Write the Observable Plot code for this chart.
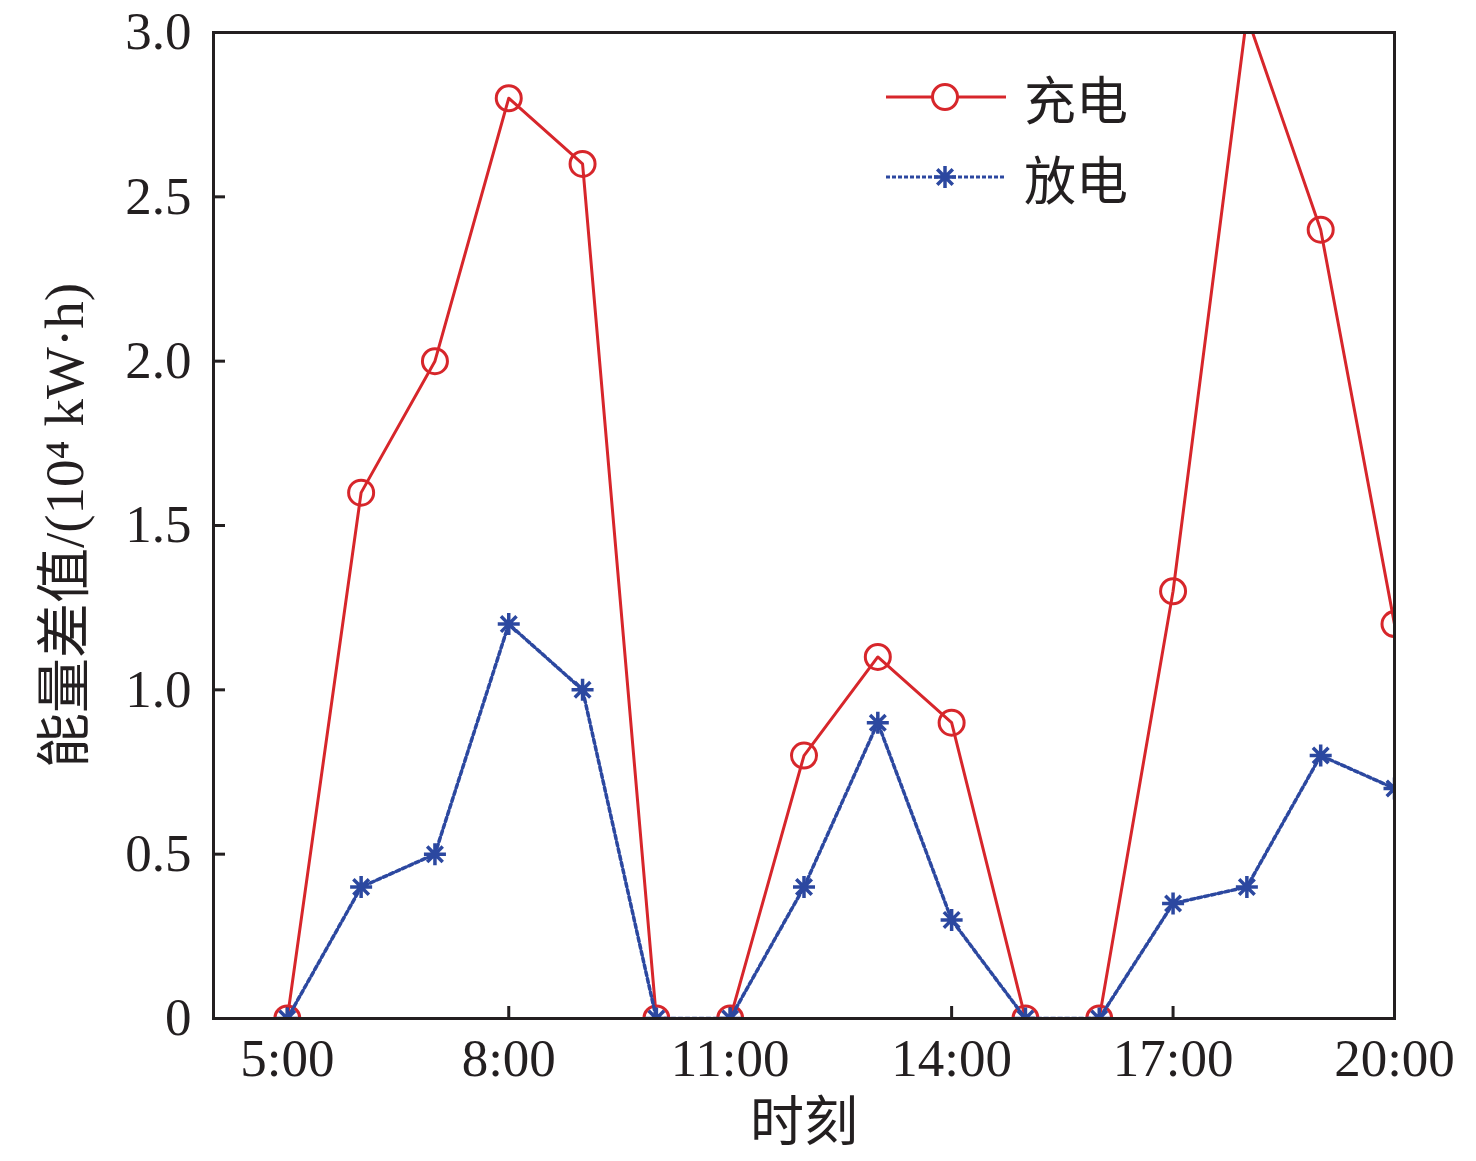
<!DOCTYPE html>
<html><head><meta charset="utf-8">
<script src="https://cdn.jsdelivr.net/npm/d3@7"></script>
<script src="https://cdn.jsdelivr.net/npm/@observablehq/plot@0.6"></script>
<style>
html,body{margin:0;padding:0;background:#fff;}
#wrap{position:relative;width:1476px;height:1161px;}
#legend{position:absolute;left:884px;top:57px;font-family:"Liberation Serif","Noto Sans CJK SC",serif;font-size:52px;color:#231f20;}
.row{display:flex;align-items:center;height:80px;}
.row svg{margin-right:16px;}
</style>
</head><body>
<div id="wrap"><div id="chart"></div><div id="legend"></div></div>
<script>
const hours = [5,6,7,8,9,10,11,12,13,14,15,16,17,18,19,20];
const charge = [0,1.6,2.0,2.8,2.6,0,0,0.8,1.1,0.9,0,0,1.3,3.05,2.4,1.2];
const discharge = [0,0.4,0.5,1.2,1.0,0,0,0.4,0.9,0.3,0,0,0.35,0.4,0.8,0.7];
const seriesNames = ["充电","放电"];
const xTicks = [5,8,11,14,17,20];
const yTicks = [0,0.5,1.0,1.5,2.0,2.5,3.0];
const xLabel = "时刻";
const yLabel = "能量差值/(10⁴ kW·h)";

const RED = "#d7262b", BLUE = "#2c48a0", INK = "#231f20";
const FONT = "'Liberation Serif','Noto Sans CJK SC',serif";

const star8 = {draw(ctx, size){const r=Math.sqrt(size/Math.PI);for(let i=0;i<4;i++){const a=i*Math.PI/4;const dx=r*Math.cos(a),dy=r*Math.sin(a);ctx.moveTo(-dx,-dy);ctx.lineTo(dx,dy);}}};

const cData = hours.map((h,i)=>({h, v: charge[i]}));
const dData = hours.map((h,i)=>({h, v: discharge[i]}));

const chart = Plot.plot({
  width: 1476, height: 1161,
  marginLeft: 213, marginRight: 82, marginTop: 32, marginBottom: 143,
  style: {fontFamily: FONT, fontSize: "53px", color: INK, background: "#fff"},
  x: {domain: [4, 20]},
  y: {domain: [0, 3]},
  marks: [
    Plot.axisX({ticks: xTicks, tickSize: -12, tickFormat: () => "", stroke: INK, strokeWidth: 3, label: null}),
    Plot.axisX({ticks: xTicks, tickSize: 0, tickPadding: 20, tickFormat: d => d + ":00", label: null, fill: INK}),
    Plot.axisY({ticks: yTicks, tickSize: -12, tickFormat: () => "", stroke: INK, strokeWidth: 3, label: null}),
    Plot.axisY({ticks: yTicks, tickSize: 0, tickPadding: 22, tickFormat: d => d === 0 ? "0" : d.toFixed(1), label: null, fill: INK}),
    Plot.line(cData, {x: "h", y: "v", stroke: RED, strokeWidth: 3, clip: true}),
    Plot.dot(cData, {x: "h", y: "v", r: 12.5, stroke: RED, strokeWidth: 3, fill: "none", clip: true}),
    Plot.line(dData, {x: "h", y: "v", stroke: BLUE, strokeWidth: 3.5, strokeDasharray: "4,3", clip: true}),
    Plot.dot(dData, {x: "h", y: "v", r: 11, symbol: star8, stroke: BLUE, strokeWidth: 3.5, fill: "none", clip: true}),
    Plot.frame({stroke: INK, strokeWidth: 3}),
    Plot.text([xLabel], {frameAnchor: "bottom", dy: 122, text: d => d, fill: INK, fontSize: 54}),
    Plot.text([yLabel], {frameAnchor: "left", dx: -148, rotate: -90, textAnchor: "middle", text: d => d, fill: INK, fontSize: 55})
  ]
});
document.getElementById("chart").appendChild(chart);

// legend
const leg = document.getElementById("legend");
const specs = [
  {name: seriesNames[0], color: RED, dash: null, marker: "circle"},
  {name: seriesNames[1], color: BLUE, dash: "4,2", marker: "star"}
];
for (const s of specs) {
  const row = document.createElement("div"); row.className = "row";
  const svg = d3.create("svg").attr("width", 124).attr("height", 40);
  svg.append("line").attr("x1", 2).attr("x2", 122).attr("y1", 20).attr("y2", 20)
    .attr("stroke", s.color).attr("stroke-width", 3).attr("stroke-dasharray", s.dash);
  if (s.marker === "circle") {
    svg.append("circle").attr("cx", 61).attr("cy", 20).attr("r", 12.5).attr("fill", "#fff").attr("stroke", s.color).attr("stroke-width", 3);
  } else {
    svg.append("path").attr("transform", "translate(61,20)").attr("d", d3.symbol(star8, Math.PI*121)()).attr("stroke", s.color).attr("stroke-width", 3.5).attr("fill", "none");
  }
  row.appendChild(svg.node());
  const t = document.createElement("span"); t.textContent = s.name; row.appendChild(t);
  leg.appendChild(row);
}
</script>
</body></html>
